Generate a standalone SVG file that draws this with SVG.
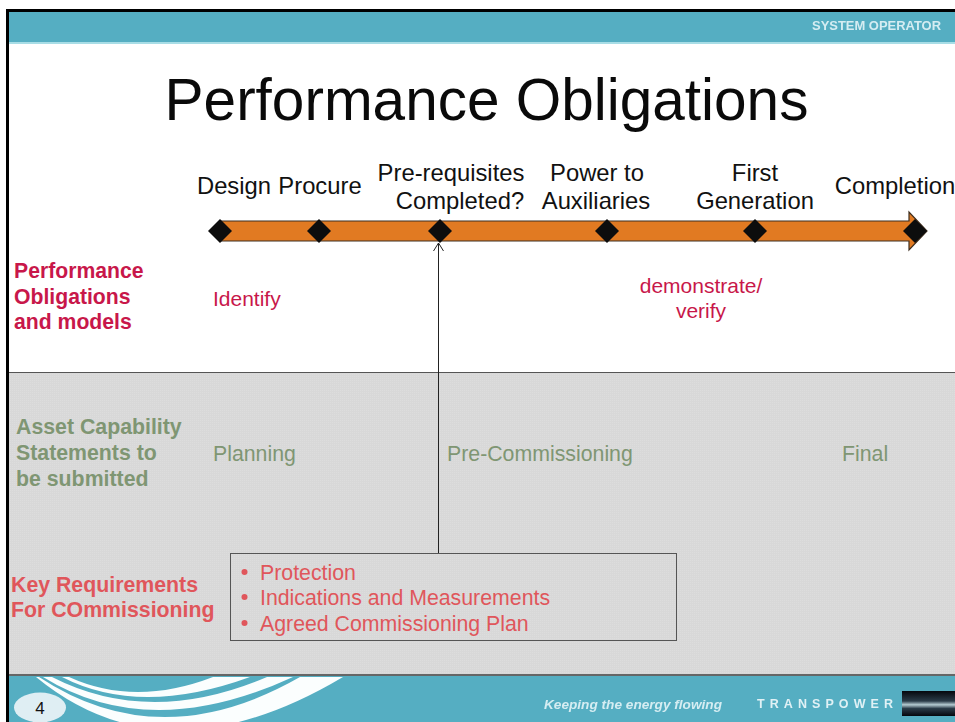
<svg xmlns="http://www.w3.org/2000/svg" width="955" height="722" viewBox="0 0 955 722">
<defs>
<pattern id="dots" width="2" height="2" patternUnits="userSpaceOnUse"><rect width="2" height="2" fill="#d8d8d8"/><rect width="1" height="1" fill="#dddddd"/></pattern>
<clipPath id="foot"><rect x="9" y="677" width="946" height="45"/></clipPath>
<filter id="soft" x="-5%" y="-30%" width="110%" height="160%"><feGaussianBlur stdDeviation="0.6"/></filter>
<linearGradient id="logo" x1="0" y1="0" x2="0" y2="1"><stop offset="0" stop-color="#05070d"/><stop offset="0.4" stop-color="#2a3b48"/><stop offset="0.55" stop-color="#b5cbd2"/><stop offset="0.7" stop-color="#2a3b48"/><stop offset="1" stop-color="#05070d"/></linearGradient>
<marker id="open" markerUnits="userSpaceOnUse" markerWidth="10" markerHeight="12" refX="9" refY="6" orient="auto" viewBox="0 0 10 12"><path d="M1 1 L9 6 L1 11" fill="none" stroke="#222" stroke-width="1"/></marker>
</defs>
<style>
text{font-family:"Liberation Sans",Arial,sans-serif}
.lbl{font-size:23.8px;fill:#111;text-anchor:middle}
.red{font-size:21px;fill:#c8174a}
.red.b{font-size:21.2px}
.grn{font-size:21.3px;fill:#7f9673}
.crl{font-size:21.3px;fill:#e0565b}
.b{font-weight:bold}
.d{fill:#0d0d0d}
</style>
<rect width="955" height="722" fill="#fff"/>
<g id="header">
<rect x="8" y="11" width="947" height="32" fill="#55aec2"/>
<rect x="8" y="42" width="947" height="2" fill="#a8dde6"/>
<text x="876.500" y="30" font-size="12.500" font-weight="bold" fill="#d5edf2" text-anchor="middle" textLength="129" lengthAdjust="spacingAndGlyphs" filter="url(#soft)">SYSTEM OPERATOR</text>
</g>
<g id="band"><rect x="8" y="373" width="947" height="302" fill="url(#dots)"/><line x1="8" y1="372.500" x2="955" y2="372.500" stroke="#555" stroke-width="1"/></g>
<g id="footer">
<rect x="8" y="675" width="947" height="47" fill="#55aec2"/>
<rect x="8" y="674" width="947" height="2" fill="#666"/>
<g clip-path="url(#foot)" fill="#fbfefe">
<path d="M62 677 Q140 717 250 677 H213 Q135 707 69 677 Z"/>
<path d="M43 677 Q150 743 293 677 H267 Q150 727 52 677 Z"/>
<path d="M36 677 Q165 783 343 677 H300 Q160 757 39 677 Z"/>
</g>
<text x="633" y="709" font-size="13" font-style="italic" font-weight="bold" fill="#d5edf2" text-anchor="middle" textLength="178" lengthAdjust="spacingAndGlyphs" filter="url(#soft)">Keeping the energy flowing</text>
<text x="825" y="708" font-size="12.500" font-weight="bold" fill="#e0f1f5" text-anchor="middle" textLength="136" lengthAdjust="spacing" filter="url(#soft)">TRANSPOWER</text>
<rect x="902" y="691" width="53" height="25" fill="url(#logo)"/>
</g>
<g id="page-number"><ellipse cx="40" cy="707.500" rx="26" ry="15" fill="#dfeef3"/><text x="40" y="714" font-size="17" fill="#111" text-anchor="middle">4</text></g>
<rect id="frame-top" x="6" y="9" width="949" height="3" fill="#000"/>
<rect id="frame-left" x="6" y="9" width="3" height="713" fill="#000"/>
<text id="title" x="486.500" y="120" font-size="58.500" fill="#0a0a0a" text-anchor="middle">Performance Obligations</text>
<g id="connectors"><line x1="438.500" y1="553" x2="438.500" y2="243" stroke="#222" stroke-width="1" marker-end="url(#open)"/></g>
<g id="timeline-arrow"><path d="M221 221 H909 V212 L927 231 L909 250 V241 H221 Z" fill="#e17a22" stroke="#3f2f20" stroke-width="1.200"/></g>
<g id="milestone-design"><path class="d" d="M220 219 L232 231 L220 243 L208 231 Z"/><text class="lbl" x="234" y="194">Design</text></g>
<g id="milestone-procure"><path class="d" d="M319 219 L331 231 L319 243 L307 231 Z"/><text class="lbl" x="320" y="194">Procure</text></g>
<g id="milestone-prereq"><path class="d" d="M440 219 L452 231 L440 243 L428 231 Z"/><text class="lbl" x="451" y="181">Pre-requisites</text><text class="lbl" x="460" y="209">Completed?</text></g>
<g id="milestone-power"><path class="d" d="M607 219 L619 231 L607 243 L595 231 Z"/><text class="lbl" x="597" y="181">Power to</text><text class="lbl" x="596" y="209">Auxiliaries</text></g>
<g id="milestone-first"><path class="d" d="M755 219 L767 231 L755 243 L743 231 Z"/><text class="lbl" x="755" y="181">First</text><text class="lbl" x="755" y="209">Generation</text></g>
<g id="milestone-completion"><path class="d" d="M915 219 L927 231 L915 243 L903 231 Z"/><text class="lbl" x="895" y="194">Completion</text></g>
<g id="row-performance"><text class="red b" x="14" y="278">Performance</text><text class="red b" x="14" y="304">Obligations</text><text class="red b" x="14" y="329">and models</text><text class="red" x="213" y="306">Identify</text><text class="red" x="701" y="293" text-anchor="middle">demonstrate/</text><text class="red" x="701" y="318" text-anchor="middle">verify</text></g>
<g id="row-asset"><text class="grn b" x="16" y="434">Asset Capability</text><text class="grn b" x="16" y="460">Statements to</text><text class="grn b" x="16" y="486">be submitted</text><text class="grn" x="213" y="461">Planning</text><text class="grn" x="447" y="461">Pre-Commissioning</text><text class="grn" x="842" y="461">Final</text></g>
<g id="row-key"><text class="crl b" x="11" y="592">Key Requirements</text><text class="crl b" x="11" y="617">For COmmissioning</text></g>
<g id="requirements-box"><rect x="230.500" y="553.500" width="446" height="87" fill="none" stroke="#555" stroke-width="1"/>
<circle cx="244.500" cy="572" r="3" fill="#e0565b"/><circle cx="244.500" cy="597" r="3" fill="#e0565b"/><circle cx="244.500" cy="623" r="3" fill="#e0565b"/>
<text class="crl" x="260" y="580">Protection</text><text class="crl" x="260" y="605">Indications and Measurements</text><text class="crl" x="260" y="631">Agreed Commissioning Plan</text></g>
</svg>
